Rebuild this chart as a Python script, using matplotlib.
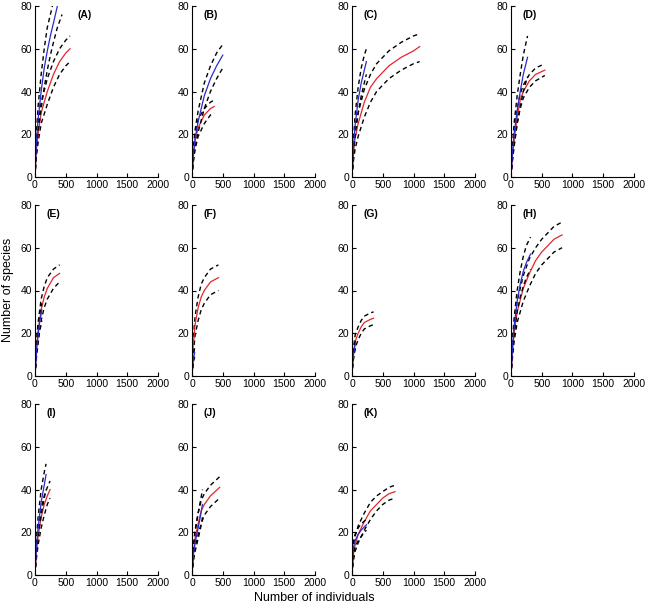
import matplotlib.pyplot as plt

plt.rcParams['font.family'] = ['Liberation Sans', 'DejaVu Sans']

# panel letters
labels = ['(A)', '(B)', '(C)', '(D)', '(E)', '(F)', '(G)', '(H)', '(I)', '(J)', '(K)']

# --- A ---
a_red_x = [0, 20, 50, 100, 200, 300, 400, 500, 570]
a_red = [0, 12, 20, 30, 40, 48, 54, 58, 60]
a_red_hi = [0, 15, 25, 35, 46, 54, 60, 64, 66]
a_red_lo = [0, 9, 16, 25, 34, 42, 48, 52, 54]
a_blue_x = [0, 20, 50, 100, 150, 200, 250, 300, 364, 440]
a_blue = [0, 15, 27, 40, 51, 59, 66, 72, 80, 86]
a_blue_hi = [0, 19, 33, 48, 60, 70, 76, 82, 90, 96]
a_blue_lo = [0, 11, 21, 32, 42, 50, 57, 63, 70, 76]

# --- B ---
b_red_x = [0, 20, 50, 100, 200, 300, 360]
b_red = [0, 10, 17, 23, 29, 32, 33]
b_red_hi = [0, 13, 20, 27, 32, 35, 36]
b_red_lo = [0, 7, 13, 19, 25, 29, 30]
b_blue_x = [0, 20, 50, 100, 200, 300, 400, 500]
b_blue = [0, 10, 18, 26, 38, 46, 52, 57]
b_blue_hi = [0, 13, 22, 31, 44, 52, 58, 62]
b_blue_lo = [0, 7, 14, 21, 32, 40, 46, 51]

# --- C ---
c_red_x = [0, 25, 50, 100, 200, 300, 400, 600, 800, 1000, 1100]
c_red = [0, 12, 18, 25, 35, 42, 46, 52, 56, 59, 61]
c_red_hi = [0, 15, 22, 30, 41, 48, 53, 59, 63, 66, 67]
c_red_lo = [0, 8, 13, 19, 28, 35, 40, 46, 50, 53, 54]
c_blue_x = [0, 25, 50, 100, 150, 200, 234]
c_blue = [0, 14, 24, 36, 44, 50, 54]
c_blue_hi = [0, 17, 29, 42, 51, 57, 60]
c_blue_lo = [0, 10, 19, 30, 38, 44, 48]

# --- D ---
d_red_x = [0, 20, 50, 100, 150, 200, 300, 400, 550]
d_red = [0, 9, 17, 28, 36, 40, 45, 48, 50]
d_red_hi = [0, 11, 21, 32, 39, 43, 48, 51, 53]
d_red_lo = [0, 7, 14, 25, 32, 37, 42, 45, 47.5]
d_blue_x = [0, 20, 50, 100, 150, 200, 269]
d_blue = [0, 10, 20, 31, 40, 48, 56]
d_blue_hi = [0, 13, 25, 38, 48, 57, 66]
d_blue_lo = [0, 7, 15, 25, 33, 40, 47]

# --- E ---
e_red_x = [0, 25, 50, 100, 150, 200, 300, 400]
e_red = [0, 14, 21, 31, 37, 41, 46, 48]
e_red_hi = [0, 17, 25, 36, 42, 46, 50, 52]
e_red_lo = [0, 11, 17, 26, 32, 36, 41, 44]
e_blue_x = [0, 25, 50, 75, 100, 110]
e_blue = [0, 12, 19, 25, 29, 31]
e_blue_hi = [0, 14, 23, 29, 32, 34]
e_blue_lo = [0, 9, 15, 21, 24, 26]

# --- F ---
f_red_x = [0, 20, 50, 100, 150, 200, 300, 430]
f_red = [0, 14, 24, 32, 37, 40, 44, 46]
f_red_hi = [0, 17, 28, 37, 43, 46, 50, 52]
f_red_lo = [0, 10, 19, 26, 31, 34, 38, 40]
f_blue_x = [0, 10, 20, 30, 43]
f_blue = [0, 4, 7, 9, 11]
f_blue_hi = [0, 5, 9, 11, 13]
f_blue_lo = [0, 3, 5, 7, 9]

# --- G ---
g_red_x = [0, 20, 50, 100, 150, 200, 300, 350]
g_red = [0, 10, 16, 20, 23, 25, 26.5, 27]
g_red_hi = [0, 12, 19, 23, 26, 28, 29.5, 30]
g_red_lo = [0, 8, 13, 17, 20, 22, 23.5, 24]
g_blue_x = [0, 10, 25, 40, 60]
g_blue = [0, 6, 10, 13, 15.5]
g_blue_hi = [0, 7, 12, 15, 17.5]
g_blue_lo = [0, 5, 8, 11, 13.5]

# --- H ---
h_red_x = [0, 25, 50, 100, 200, 300, 400, 500, 600, 700, 830]
h_red = [0, 12, 20, 30, 41, 48, 54, 58, 61, 64, 66]
h_red_hi = [0, 15, 24, 35, 47, 55, 60, 64, 67, 70, 72]
h_red_lo = [0, 9, 16, 25, 35, 42, 48, 52, 55, 58, 60]
h_blue_x = [0, 25, 50, 100, 150, 200, 250, 317]
h_blue = [0, 14, 23, 35, 43, 49, 53, 57]
h_blue_hi = [0, 17, 27, 40, 49, 56, 61, 65]
h_blue_lo = [0, 11, 19, 30, 37, 42, 46, 50]

# --- I ---
i_red_x = [0, 20, 50, 100, 150, 200, 245]
i_red = [0, 10, 18, 27, 33, 37, 40]
i_red_hi = [0, 13, 22, 31, 37, 41, 44]
i_red_lo = [0, 7, 14, 22, 28, 33, 36]
i_blue_x = [0, 20, 50, 100, 150, 180]
i_blue = [0, 12, 22, 34, 42, 47]
i_blue_hi = [0, 15, 27, 40, 48, 52]
i_blue_lo = [0, 9, 18, 28, 36, 40]

# --- J ---
j_red_x = [0, 25, 50, 100, 150, 200, 300, 450]
j_red = [0, 11, 17, 24, 30, 33, 37, 41]
j_red_hi = [0, 14, 21, 29, 35, 38, 42, 46]
j_red_lo = [0, 8, 13, 19, 24, 28, 32, 36]
j_blue_x = [0, 25, 50, 100, 140, 170]
j_blue = [0, 10, 15, 22, 28, 33]
j_blue_hi = [0, 13, 20, 29, 35, 40]
j_blue_lo = [0, 7, 11, 17, 22, 27]

# --- K ---
k_red_x = [0, 25, 50, 100, 200, 300, 400, 500, 600, 700]
k_red = [0, 10, 14, 19, 25, 30, 33, 36, 38, 39]
k_red_hi = [0, 13, 18, 23, 29, 34, 37, 39, 41, 42]
k_red_lo = [0, 7, 11, 15, 21, 26, 30, 33, 35, 36]
k_blue_x = [0, 10, 25, 50, 100, 150, 234]
k_blue = [0, 8, 13, 16, 19, 21, 23.5]
k_blue_hi = [0, 10, 16, 19, 22, 24, 26]
k_blue_lo = [0, 6, 10, 13, 16, 18, 21]

panels = [
    (a_red_x, a_red, a_red_hi, a_red_lo, a_blue_x, a_blue, a_blue_hi, a_blue_lo),
    (b_red_x, b_red, b_red_hi, b_red_lo, b_blue_x, b_blue, b_blue_hi, b_blue_lo),
    (c_red_x, c_red, c_red_hi, c_red_lo, c_blue_x, c_blue, c_blue_hi, c_blue_lo),
    (d_red_x, d_red, d_red_hi, d_red_lo, d_blue_x, d_blue, d_blue_hi, d_blue_lo),
    (e_red_x, e_red, e_red_hi, e_red_lo, e_blue_x, e_blue, e_blue_hi, e_blue_lo),
    (f_red_x, f_red, f_red_hi, f_red_lo, f_blue_x, f_blue, f_blue_hi, f_blue_lo),
    (g_red_x, g_red, g_red_hi, g_red_lo, g_blue_x, g_blue, g_blue_hi, g_blue_lo),
    (h_red_x, h_red, h_red_hi, h_red_lo, h_blue_x, h_blue, h_blue_hi, h_blue_lo),
    (i_red_x, i_red, i_red_hi, i_red_lo, i_blue_x, i_blue, i_blue_hi, i_blue_lo),
    (j_red_x, j_red, j_red_hi, j_red_lo, j_blue_x, j_blue, j_blue_hi, j_blue_lo),
    (k_red_x, k_red, k_red_hi, k_red_lo, k_blue_x, k_blue, k_blue_hi, k_blue_lo),
]
# label x position per panel (A sits further right)
label_x = [690, 180, 180, 180, 180, 180, 180, 180, 180, 180, 180]

W, H = 648, 609
fig = plt.figure(figsize=(W / 100, H / 100), dpi=100)

col_left = [35, 192, 352, 511]   # pixels
row_top = [6, 205, 404]
ax_w, ax_h = 123, 171

red = '#e3262b'
blue = '#2a2ad0'
dash = (3.2, 2.4)

for n, p in enumerate(panels):
    r, c = divmod(n, 4)
    ax = fig.add_axes([col_left[c] / W, 1 - (row_top[r] + ax_h) / H, ax_w / W, ax_h / H])
    rx, ry, rhi, rlo, bx, by, bhi, blo = p
    ax.plot(rx, rhi, color='k', lw=1.0, dashes=dash)
    ax.plot(rx, rlo, color='k', lw=1.0, dashes=dash)
    ax.plot(rx, ry, color=red, lw=0.9)
    ax.plot(bx, bhi, color='k', lw=1.0, dashes=dash)
    ax.plot(bx, blo, color='k', lw=1.0, dashes=dash)
    ax.plot(bx, by, color=blue, lw=0.9)
    ax.set_xlim(0, 2000)
    ax.set_ylim(0, 80)
    ax.set_xticks([0, 500, 1000, 1500, 2000])
    ax.set_yticks([0, 20, 40, 60, 80])
    for s in ['top', 'right']:
        ax.spines[s].set_visible(False)
    ax.tick_params(direction='in', length=3, width=0.8, labelsize=7.5, pad=2)
    ax.text(label_x[n], 76, labels[n], fontsize=7.5, fontweight='bold', va='center', ha='left')

fig.text(8 / W, 1 - 290 / H, 'Number of species', rotation=90, fontsize=9, ha='center', va='center')
fig.text(314 / W, 1 - 598 / H, 'Number of individuals', fontsize=9, ha='center', va='center')

fig.savefig('out.png', dpi=100)
